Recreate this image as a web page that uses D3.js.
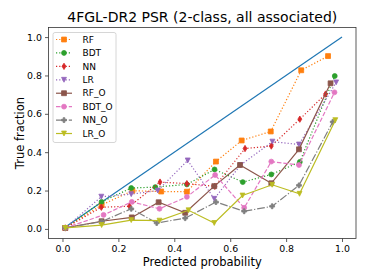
<!DOCTYPE html>
<meta charset="utf-8">
<style>

body {
  margin: 0;
  background: #fff;
}

text {
  font-family: "DejaVu Sans", sans-serif;
  fill: #000;
}

.tick text {
  font-size: 9.4px;
}

.tick line {
  stroke: #333;
  stroke-width: 0.8;
}

</style>
<svg width="374" height="280"></svg>
<script src="https://cdn.jsdelivr.net/npm/d3@7"></script>
<script>

// series names, in legend order
var names = ["RF", "BDT", "NN", "LR", "RF_O", "BDT_O", "NN_O", "LR_O"];

// mean predicted probability per bin (x) and true fraction (y)
var rfX = [0.01, 0.14, 0.25, 0.353, 0.445, 0.549, 0.641, 0.745, 0.854, 0.95];
var rfY = [0.005, 0.125, 0.199, 0.195, 0.194, 0.351, 0.461, 0.508, 0.827, 0.901];

var bdtX = [0.01, 0.14, 0.246, 0.332, 0.445, 0.544, 0.645, 0.747, 0.849, 0.974];
var bdtY = [0.005, 0.141, 0.213, 0.218, 0.232, 0.31, 0.244, 0.284, 0.349, 0.797];

var nnX = [0.01, 0.139, 0.24, 0.349, 0.445, 0.545, 0.653, 0.747, 0.849, 0.941];
var nnY = [0.005, 0.113, 0.118, 0.244, 0.236, 0.222, 0.419, 0.432, 0.572, 0.703];

var lrX = [0.01, 0.139, 0.246, 0.341, 0.448, 0.543, 0.637, 0.751, 0.846, 0.979];
var lrY = [0.005, 0.168, 0.181, 0.2, 0.357, 0.157, 0.333, 0.455, 0.44, 0.764];

var rfoX = [0.01, 0.14, 0.248, 0.344, 0.439, 0.543, 0.635, 0.747, 0.846, 0.959];
var rfoY = [0.005, 0.04, 0.06, 0.139, 0.084, 0.223, 0.333, 0.238, 0.415, 0.759];

var bdtoX = [0.01, 0.147, 0.248, 0.347, 0.445, 0.546, 0.65, 0.747, 0.846, 0.973];
var bdtoY = [0.005, 0.073, 0.141, 0.105, 0.167, 0.281, 0.11, 0.351, 0.333, 0.712];

var nnoX = [0.01, 0.14, 0.246, 0.337, 0.439, 0.549, 0.65, 0.75, 0.846, 0.967];
var nnoY = [0.005, 0.038, 0.105, 0.031, 0.056, 0.14, 0.092, 0.118, 0.227, 0.558];

var lroX = [0.01, 0.14, 0.246, 0.347, 0.451, 0.543, 0.644, 0.75, 0.848, 0.976];
var lroY = [0.005, 0.02, 0.046, 0.043, 0.097, 0.031, 0.174, 0.23, 0.183, 0.567];

// perfect calibration line
var diagX = [0, 1];
var diagY = [0, 1];

// tick values
var xTicks = [0, 0.2, 0.4, 0.6, 0.8, 1.0];
var yTicks = [0, 0.2, 0.4, 0.6, 0.8, 1.0];

var seriesX = [rfX, bdtX, nnX, lrX, rfoX, bdtoX, nnoX, lroX];
var seriesY = [rfY, bdtY, nnY, lrY, rfoY, bdtoY, nnoY, lroY];

// matplotlib tab10 colours, markers and line styles
var colors = ["#ff7f0e", "#2ca02c", "#d62728", "#9467bd", "#8c564b", "#e377c2", "#7f7f7f", "#bcbd22"];
var markers = ["s", "o", "d", "v", "s", "o", "P", "v"];
var dashes = ["1.2,2", "1.2,2", "1.2,2", "1.2,2", null, "4.5,1.9", "7.8,1.9,1.2,1.9", null];

var svg = d3.select("svg"),
    width = +svg.attr("width"),
    height = +svg.attr("height");

// plot area edges
var pLeft = 48.5, pRight = 356, pTop = 27.5, pBottom = 238.5;

var x = d3.scaleLinear().domain([-0.05, 1.05]).range([pLeft, pRight]);
var y = d3.scaleLinear().domain([-0.05, 1.05]).range([pBottom, pTop]);

// marker shapes, sizes in px (6pt markers)
var ms = 4.9;
function markerPath(m) {
  var h = ms / 2;
  if (m === "s") return "M" + (-h) + "," + (-h) + "H" + h + "V" + h + "H" + (-h) + "Z";
  if (m === "o") return "M" + h + ",0A" + h + "," + h + " 0 1,1 " + (-h) + ",0A" + h + "," + h + " 0 1,1 " + h + ",0Z";
  if (m === "v") return "M0," + h + "L" + (-h) + "," + (-h) + "L" + h + "," + (-h) + "Z";
  if (m === "d") {
    var dy = h * 1.3, dx = h * 0.8;
    return "M0," + (-dy) + "L" + dx + ",0L0," + dy + "L" + (-dx) + ",0Z";
  }
  if (m === "P") {
    var a = h / 3;
    return "M" + (-a) + "," + (-h) + "H" + a + "V" + (-a) + "H" + h + "V" + a + "H" + a + "V" + h +
      "H" + (-a) + "V" + a + "H" + (-h) + "V" + (-a) + "H" + (-a) + "Z";
  }
}

var line = d3.line()
    .x(function(d) { return x(d[0]); })
    .y(function(d) { return y(d[1]); });

// axes
var xAxis = svg.append("g")
    .attr("transform", "translate(0," + pBottom + ")")
    .call(d3.axisBottom(x).tickValues(xTicks).tickSize(3.5).tickPadding(3).tickFormat(d3.format(".1f")));
xAxis.select(".domain").remove();

var yAxis = svg.append("g")
    .attr("transform", "translate(" + pLeft + ",0)")
    .call(d3.axisLeft(y).tickValues(yTicks).tickSize(3.5).tickPadding(3).tickFormat(d3.format(".1f")));
yAxis.select(".domain").remove();

svg.selectAll(".tick text").style("font-family", "DejaVu Sans").attr("fill", "#222");

var plot = svg.append("g");

// diagonal
plot.append("path")
    .datum(d3.zip(diagX, diagY))
    .attr("d", line)
    .attr("fill", "none")
    .attr("stroke", "#1f77b4")
    .attr("stroke-width", 1.2);

// calibration curves
names.forEach(function(name, i) {
  var pts = d3.zip(seriesX[i], seriesY[i]);
  plot.append("path")
      .datum(pts)
      .attr("d", line)
      .attr("fill", "none")
      .attr("stroke", colors[i])
      .attr("stroke-width", 1.2)
      .attr("stroke-dasharray", dashes[i]);
  plot.selectAll(null)
      .data(pts)
      .enter().append("path")
      .attr("transform", function(d) { return "translate(" + x(d[0]) + "," + y(d[1]) + ")"; })
      .attr("d", markerPath(markers[i]))
      .attr("fill", colors[i])
      .attr("stroke", colors[i])
      .attr("stroke-width", 0.8);
});

// frame
svg.append("rect")
    .attr("x", pLeft).attr("y", pTop)
    .attr("width", pRight - pLeft).attr("height", pBottom - pTop)
    .attr("fill", "none")
    .attr("stroke", "#333")
    .attr("stroke-width", 0.8);

// legend
var legend = svg.append("g").attr("transform", "translate(53,32.5)");
legend.append("rect")
    .attr("width", 63).attr("height", 110)
    .attr("rx", 2)
    .attr("fill", "#fff").attr("fill-opacity", 0.8)
    .attr("stroke", "#ccc").attr("stroke-width", 0.8);

var item = legend.selectAll(".item")
  .data(names)
  .enter().append("g")
    .attr("transform", function(d, i) { return "translate(0," + (7 + i * 13.43) + ")"; });

item.append("line")
    .attr("x1", 3).attr("x2", 19)
    .attr("stroke", function(d, i) { return colors[i]; })
    .attr("stroke-width", 1.2)
    .attr("stroke-dasharray", function(d, i) { return dashes[i]; });

item.append("path")
    .attr("transform", "translate(11,0)")
    .attr("d", function(d, i) { return markerPath(markers[i]); })
    .attr("fill", function(d, i) { return colors[i]; })
    .attr("stroke", function(d, i) { return colors[i]; })
    .attr("stroke-width", 0.8);

item.append("text")
    .attr("x", 29.5)
    .attr("dy", "0.35em")
    .style("font-size", "9px")
    .text(function(d) { return d; });

// title and axis labels
svg.append("text")
    .attr("x", (pLeft + pRight) / 2)
    .attr("y", 22)
    .attr("text-anchor", "middle")
    .style("font-size", "14px")
    .text("4FGL-DR2 PSR (2-class, all associated)");

svg.append("text")
    .attr("x", (pLeft + pRight) / 2)
    .attr("y", 266)
    .attr("text-anchor", "middle")
    .style("font-size", "11.5px")
    .text("Predicted probability");

svg.append("text")
    .attr("transform", "translate(24," + (pTop + pBottom) / 2 + ") rotate(-90)")
    .attr("text-anchor", "middle")
    .style("font-size", "11.5px")
    .text("True fraction");

</script>
